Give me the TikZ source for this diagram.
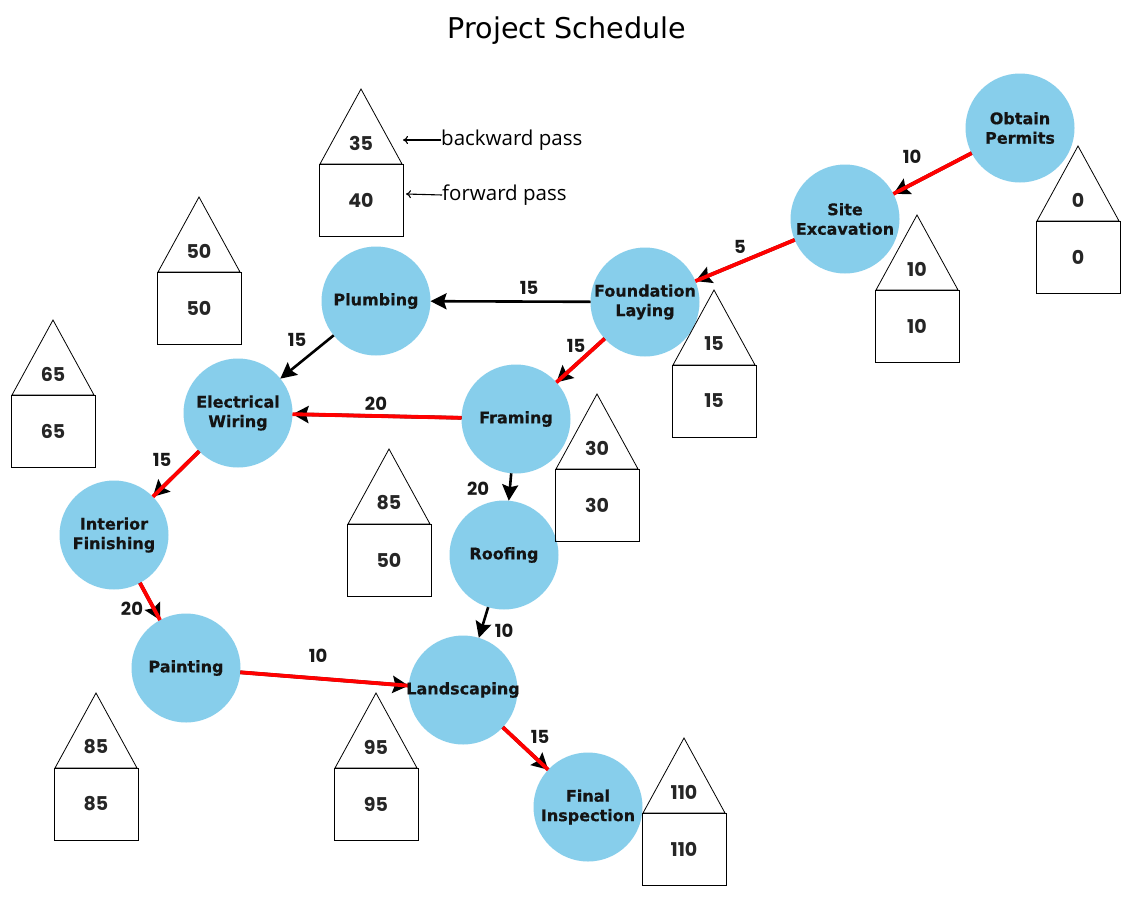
\documentclass[tikz,border=0pt]{standalone}
\usepackage{fontspec}
\usetikzlibrary{arrows.meta}
\newfontfamily\djv{DejaVu Sans}[BoldFeatures={FakeBold=0.5}]
\newfontfamily\pop{Poppins}
\newfontfamily\osn{Open Sans}
\definecolor{skyblue}{RGB}{135,206,235}
\tikzset{
  task/.style={circle,fill=skyblue,draw=none,minimum size=109pt,inner sep=0pt,outer sep=0pt},
  tasklbl/.style={font=\djv\bfseries\fontsize{16}{19.5}\selectfont,align=center,text=black!92,inner sep=0pt},
  crit/.style={draw=black,line width=3.5pt,-{Stealth[color=black,fill=black,length=16pt,width=17pt,inset=2.5pt]},
    postaction={draw=red,-,line width=3.8pt}},
  norm/.style={draw=black,line width=2.6pt,-{Stealth[color=black,fill=black,length=16pt,width=16pt,inset=2.5pt]}},
  wlbl/.style={font=\pop\bfseries\fontsize{18}{20}\selectfont,inner sep=0pt,text=black!90},
  num/.style={font=\pop\bfseries\fontsize{19}{21}\selectfont,inner sep=0pt,text=black!85},
  house/.style={draw=black,line width=0.8pt},
  legtxt/.style={font=\osn\fontsize{20.5}{24}\selectfont,inner sep=0pt,anchor=west},
  legarr/.style={draw=black,line width=1.1pt,-{To[length=5pt,width=8pt]}}
}
\newcommand\cpmhouse[5]{%
  \draw[house] (#2-41,#3) -- (#2,#3-75) -- (#2+41,#3) -- cycle;
  \draw[house] (#2-42,#3) rectangle (#2+42,#3+72);
  \node[num] (#1t) at (#2,#3-21) {#4};
  \node[num] (#1b) at (#2,#3+36) {#5};}
\begin{document}
\begin{tikzpicture}[x=1pt,y=-1pt]
\fill[white] (0,0) rectangle (1134,897);
\useasboundingbox (0,0) rectangle (1134,897);

% title
\node[font=\djv\fontsize{28.6}{32}\selectfont,inner sep=0pt] (title) at (567,31) {Project Schedule};

% task circles
\node[task] (op) at (1020,128) {};
\node[task] (se) at (845,219) {};
\node[task] (fl) at (645,302) {};
\node[task] (pl) at (376,301) {};
\node[task] (ew) at (238,413) {};
\node[task] (fr) at (516,419) {};
\node[task] (ro) at (504,555) {};
\node[task] (inf) at (114,535) {};
\node[task] (pa) at (186,668) {};
\node[task] (la) at (463,690) {};
\node[task] (fi) at (588,807) {};

% edges
\draw[crit] (op) -- (se);
\draw[crit] (se) -- (fl);
\draw[norm] (fl) -- (pl);
\draw[crit] (fl) -- (fr);
\draw[norm] (pl) -- (ew);
\draw[crit] (fr) -- (ew);
\draw[norm] (fr) -- (ro);
\draw[crit] (ew) -- (inf);
\draw[crit] (inf) -- (pa);
\draw[norm] (ro) -- (la);
\draw[crit] (pa) -- (la);
\draw[crit] (la) -- (fi);

% edge weights
\node[wlbl] (w1) at (912,157) {10};
\node[wlbl] (w2) at (740,247) {5};
\node[wlbl] (w3) at (529,288) {15};
\node[wlbl] (w4) at (576,346) {15};
\node[wlbl] (w5) at (297,340) {15};
\node[wlbl] (w6) at (376,404) {20};
\node[wlbl] (w7) at (478,489) {20};
\node[wlbl] (w8) at (162,460) {15};
\node[wlbl] (w9) at (132,609) {20};
\node[wlbl] (w10) at (504,631) {10};
\node[wlbl] (w11) at (318,656) {10};
\node[wlbl] (w12) at (540,737) {15};

% task labels
\node[tasklbl] (opT) at (op) {Obtain\\Permits};
\node[tasklbl] (seT) at (se) {Site\\Excavation};
\node[tasklbl] (flT) at (fl) {Foundation\\Laying};
\node[tasklbl] (plT) at (pl) {Plumbing};
\node[tasklbl] (ewT) at (ew) {Electrical\\Wiring};
\node[tasklbl] (frT) at (fr) {Framing};
\node[tasklbl] (roT) at (ro) {Roofing};
\node[tasklbl] (infT) at (inf) {Interior\\Finishing};
\node[tasklbl] (paT) at (pa) {Painting};
\node[tasklbl] (laT) at (la) {Landscaping};
\node[tasklbl] (fiT) at (fi) {Final\\Inspection};

% houses
\cpmhouse{lg}{361}{164}{35}{40}
\cpmhouse{hop}{1078}{221}{0}{0}
\cpmhouse{hse}{917}{290}{10}{10}
\cpmhouse{hfl}{714}{365}{15}{15}
\cpmhouse{hfr}{597}{469}{30}{30}
\cpmhouse{hpl}{199}{272}{50}{50}
\cpmhouse{hew}{53}{395}{65}{65}
\cpmhouse{hro}{389}{524}{85}{50}
\cpmhouse{hpa}{96}{768}{85}{85}
\cpmhouse{hla}{376}{768}{95}{95}
\cpmhouse{hfi}{684}{813}{110}{110}

% legend
\node[legtxt] (bp) at (441,140) {backward pass};
\node[legtxt] (fp) at (442,195) {forward pass};
\coordinate (bpE) at (403,140);
\coordinate (fpE) at (406,194);
\draw[legarr] (bp.west) -- (bpE);
\draw[legarr] (fp.west) -- (fpE);
\end{tikzpicture}
\end{document}
